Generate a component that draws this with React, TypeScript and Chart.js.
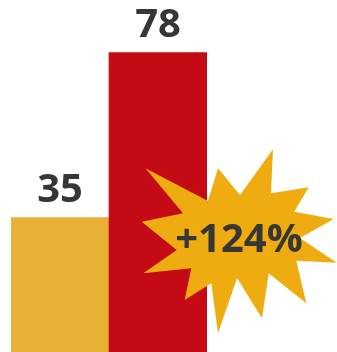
import React, { useEffect, useRef } from "react";
import { Chart, registerables } from "chart.js";

Chart.register(...registerables);

const categories = ["Before", "After"];
const values = [35, 78];
const barColors = ["#E9B036", "#C40A14"];
const changeLabel = "+124%";

// starburst outline (outer tips and inner notches), canvas pixels
const burstPoints: [number, number][] = [
  [145.5, 168.3], [208, 201], [218, 168.3], [240, 195], [273, 149.3], [271, 193.3],
  [308.7, 187.3], [294.3, 211.7], [333.7, 219], [300, 238], [336.7, 262.7], [296.3, 260.7],
  [306.3, 303.3], [268.7, 273.3], [262, 318.3], [237, 278], [218, 333.3], [211.3, 283.3],
  [184.7, 300], [191.3, 268.3], [143.3, 273.3], [176.7, 250], [141.7, 221.7], [183, 213.3],
];

const FONT = '"Open Sans", "Liberation Sans", sans-serif';

const overlayPlugin = {
  id: "overlay",
  afterDatasetsDraw(chart: any) {
    const ctx = chart.ctx as CanvasRenderingContext2D;
    const meta = chart.getDatasetMeta(0);
    ctx.save();
    // value labels
    ctx.fillStyle = "#363636";
    ctx.font = `bold 40px ${FONT}`;
    ctx.textAlign = "center";
    ctx.textBaseline = "alphabetic";
    meta.data.forEach((bar: any, i: number) => {
      ctx.fillText(String(values[i]), bar.x, bar.y - 16);
    });
    // starburst
    ctx.beginPath();
    burstPoints.forEach(([x, y], i) => (i === 0 ? ctx.moveTo(x, y) : ctx.lineTo(x, y)));
    ctx.closePath();
    ctx.fillStyle = "#EEAC11";
    ctx.fill();
    ctx.fillStyle = "#363636";
    ctx.font = `bold 40px ${FONT}`;
    ctx.fillText(changeLabel, 239, 252);
    ctx.restore();
  },
};

export default function App() {
  const ref = useRef<HTMLCanvasElement | null>(null);
  useEffect(() => {
    if (!ref.current) return;
    const chart = new Chart(ref.current, {
      type: "bar",
      data: {
        labels: categories,
        datasets: [
          {
            data: values,
            backgroundColor: barColors,
            borderWidth: 0,
            categoryPercentage: 1,
            barPercentage: 1,
          },
        ],
      },
      options: {
        responsive: false,
        animation: false,
        layout: { padding: { left: 11, right: 130, top: 0, bottom: 0 } },
        plugins: { legend: { display: false }, tooltip: { enabled: false } },
        scales: {
          x: { display: false },
          y: { display: false, min: 0, max: 91.7 },
        },
      },
      plugins: [overlayPlugin],
    });
    return () => chart.destroy();
  }, []);
  return (
    <div style={{ position: "absolute", left: 0, top: 0, width: 337, height: 352 }}>
      <canvas ref={ref} width={337} height={352} style={{ display: "block" }} />
    </div>
  );
}
